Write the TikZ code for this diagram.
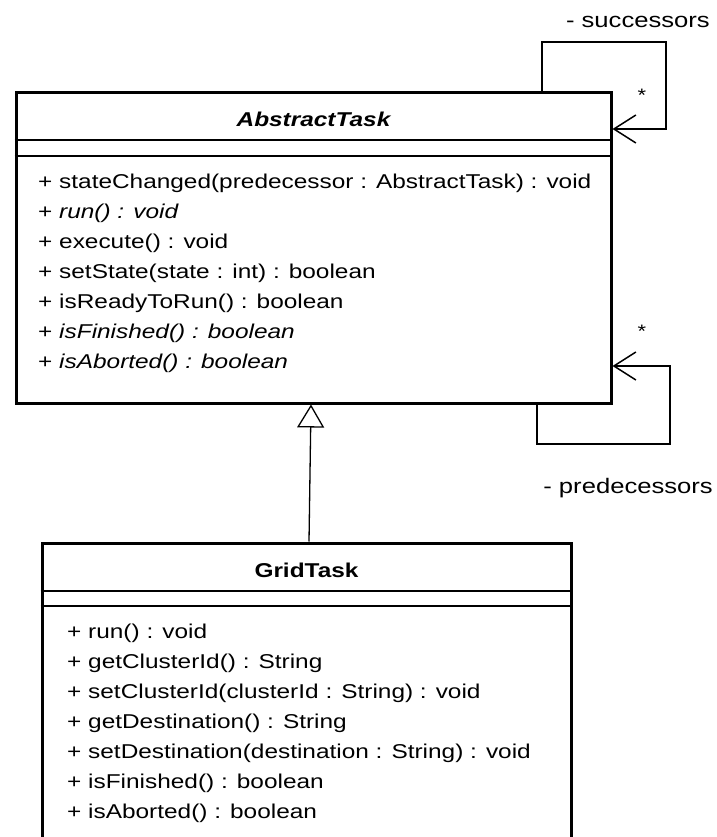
\documentclass[tikz,border=0pt]{standalone}
\usepackage{fontspec}
\setmainfont{Liberation Sans}[FakeStretch=1.22]
\usetikzlibrary{arrows.meta}

\tikzset{
  classbox/.style={draw, line width=3pt, inner sep=0pt},
  compsep/.style={line width=1.5pt},
  member/.style={anchor=base west, inner sep=0pt, font=\fontsize{20}{30}\selectfont},
  classname/.style={anchor=base, inner sep=0pt, font=\fontsize{20}{30}\selectfont\bfseries},
  rolelabel/.style={anchor=base east, inner sep=0pt, font=\fontsize{21}{30}\selectfont},
  multlabel/.style={anchor=base, inner sep=0pt, font=\fontsize{18}{30}\selectfont},
  gen/.style={line width=1.3pt, -{Triangle[open, length=23pt, width=27pt]}},
  assoc/.style={line width=1.5pt, -{Straight Barb[length=22pt, width=28pt]}},
}

\begin{document}
\begin{tikzpicture}[x=1pt, y=-1pt]
  \useasboundingbox (0,0) rectangle (716,837);
  \clip (0,0) rectangle (716,837);

  % AbstractTask class
  \node[classbox, minimum width=595pt, minimum height=310pt] (abs) at (313.5,248) {};
  \node[classname] (absname) at (313.5,127) {\itshape AbstractTask};
  \draw[compsep] (abs.west |- 0,140) -- (abs.east |- 0,140);
  \draw[compsep] (abs.west |- 0,156) -- (abs.east |- 0,156);
  \foreach \m [count=\i] in {
      {+ stateChanged(predecessor : AbstractTask) : void},
      {+ \textit{run() : void}},
      {+ execute() : void},
      {+ setState(state : int) : boolean},
      {+ isReadyToRun() : boolean},
      {+ \textit{isFinished() : boolean}},
      {+ \textit{isAborted() : boolean}}}
    \node[member] (absop\i) at (38,158+30*\i) {\m};

  % GridTask class (runs past the lower edge)
  \node[classbox, minimum width=529pt, minimum height=360pt] (grid) at (306.5,723) {};
  \node[classname] (gridname) at (306.5,577) {GridTask};
  \draw[compsep] (grid.west |- 0,591) -- (grid.east |- 0,591);
  \draw[compsep] (grid.west |- 0,606) -- (grid.east |- 0,606);
  \foreach \m [count=\i] in {
      {+ run() : void},
      {+ getClusterId() : String},
      {+ setClusterId(clusterId : String) : void},
      {+ getDestination() : String},
      {+ setDestination(destination : String) : void},
      {+ isFinished() : boolean},
      {+ isAborted() : boolean}}
    \node[member] (gridop\i) at (67,608+30*\i) {\m};

  % generalization GridTask -> AbstractTask
  \draw[gen] ([xshift=2.5pt]grid.north) -- ([xshift=-2.5pt]abs.south);

  % self associations
  \coordinate (succcorner) at (666,42);
  \draw[assoc] ([xshift=228.5pt]abs.north) |- (succcorner) |- ([yshift=119pt]abs.east);
  \node[rolelabel] (succrole) at (710,28) {- successors};
  \node[multlabel] (succmult) at (642,102) {*};

  \coordinate (predcorner) at (670,444);
  \draw[assoc] ([xshift=223.5pt]abs.south) |- (predcorner) |- ([yshift=-118pt]abs.east);
  \node[rolelabel] (predrole) at (713,493) {- predecessors};
  \node[multlabel] (predmult) at (642,337) {*};
\end{tikzpicture}
\end{document}
